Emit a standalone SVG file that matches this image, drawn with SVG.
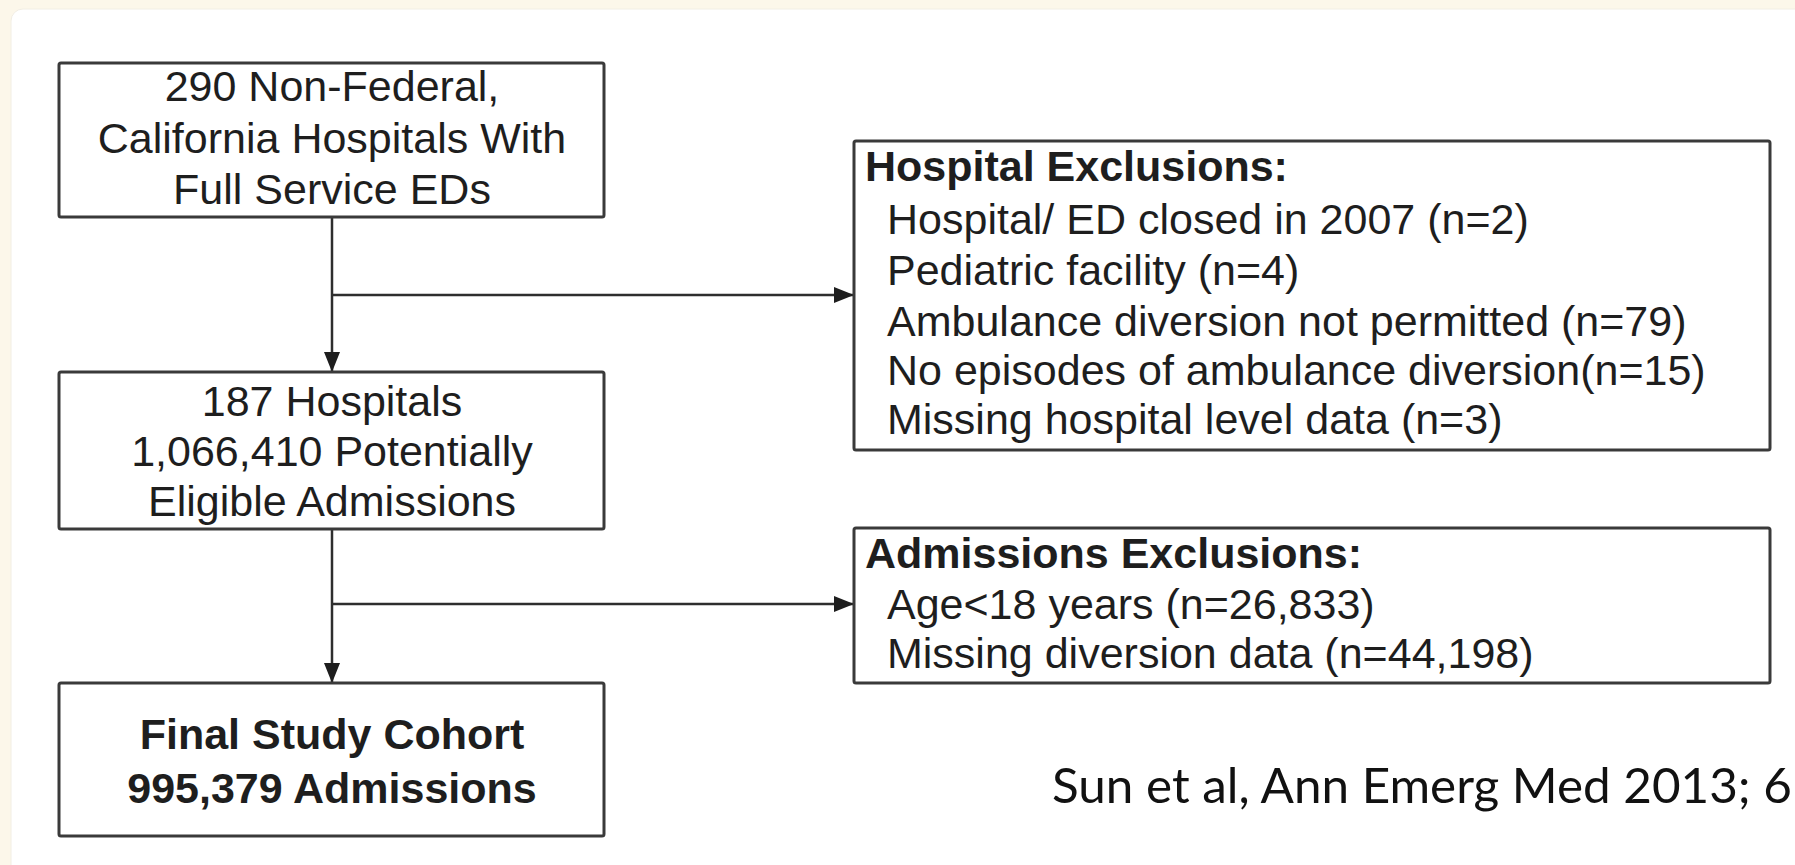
<svg xmlns="http://www.w3.org/2000/svg" width="1795" height="865" viewBox="0 0 1795 865">
  <defs>
    <style>
      .box { fill: #ffffff; stroke: #3a3a3a; stroke-width: 3; }
      .txt { font-family: "Liberation Sans", Arial, sans-serif; font-size: 43px; fill: #1e1e1e; }
      .ctr { text-anchor: middle; }
      .bold { font-weight: bold; }
      .link { fill: none; stroke: #2e2e2e; stroke-width: 2.5; }
      .cite { font-family: Lato, "Noto Sans", sans-serif; font-size: 49px; fill: #111111; }
    </style>
    <marker id="arrow" viewBox="0 0 20 16" refX="19" refY="8" markerWidth="20" markerHeight="16" markerUnits="userSpaceOnUse" orient="auto">
      <path d="M0,0 L20,8 L0,16 Z" fill="#1e1e1e"/>
    </marker>
  </defs>

  <!-- page background and white card -->
  <rect x="0" y="0" width="1795" height="865" fill="#fcf7ea"/>
  <rect x="11" y="9" width="1800" height="880" rx="12" fill="#ffffff" stroke="#f2eee4" stroke-width="1"/>

  <!-- connectors -->
  <g id="connectors">
    <path class="link" d="M332,217 V371" marker-end="url(#arrow)"/>
    <path class="link" d="M332,295 H853" marker-end="url(#arrow)"/>
    <path class="link" d="M332,529 V682" marker-end="url(#arrow)"/>
    <path class="link" d="M332,604 H853" marker-end="url(#arrow)"/>
  </g>

  <g id="node-all-hospitals">
    <rect class="box" x="59" y="63" width="545" height="154" rx="2"/>
    <text class="txt ctr" x="332" y="101">290 Non-Federal,</text>
    <text class="txt ctr" x="332" y="153">California Hospitals With</text>
    <text class="txt ctr" x="332" y="204">Full Service EDs</text>
  </g>

  <g id="node-eligible">
    <rect class="box" x="59" y="372" width="545" height="157" rx="2"/>
    <text class="txt ctr" x="332" y="416">187 Hospitals</text>
    <text class="txt ctr" x="332" y="466">1,066,410 Potentially</text>
    <text class="txt ctr" x="332" y="516">Eligible Admissions</text>
  </g>

  <g id="node-final-cohort">
    <rect class="box" x="59" y="683" width="545" height="153" rx="2"/>
    <text class="txt ctr bold" x="332" y="749">Final Study Cohort</text>
    <text class="txt ctr bold" x="332" y="803">995,379 Admissions</text>
  </g>

  <g id="node-hospital-exclusions">
    <rect class="box" x="854" y="141" width="916" height="309" rx="2"/>
    <text class="txt bold" x="865" y="181">Hospital Exclusions:</text>
    <text class="txt" x="887" y="234">Hospital/ ED closed in 2007 (n=2)</text>
    <text class="txt" x="887" y="285">Pediatric facility (n=4)</text>
    <text class="txt" x="887" y="336">Ambulance diversion not permitted (n=79)</text>
    <text class="txt" x="887" y="385">No episodes of ambulance diversion(n=15)</text>
    <text class="txt" x="887" y="434">Missing hospital level data (n=3)</text>
  </g>

  <g id="node-admission-exclusions">
    <rect class="box" x="854" y="528" width="916" height="155" rx="2"/>
    <text class="txt bold" x="865" y="568">Admissions Exclusions:</text>
    <text class="txt" x="887" y="619">Age&lt;18 years (n=26,833)</text>
    <text class="txt" x="887" y="668">Missing diversion data (n=44,198)</text>
  </g>

  <!-- source citation -->
  <text class="cite" x="1052" y="803" textLength="740" lengthAdjust="spacingAndGlyphs">Sun et al, Ann Emerg Med 2013; 6</text>
</svg>
